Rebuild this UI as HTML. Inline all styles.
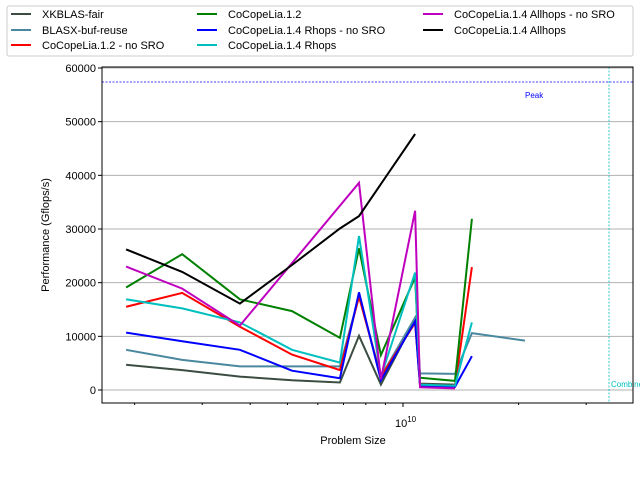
<!DOCTYPE html>
<html><head><meta charset="utf-8"><style>
body{margin:0;background:#fff}
svg{display:block;font-family:"Liberation Sans","DejaVu Sans",sans-serif}
</style></head><body>
<svg id="chart" width="640" height="480">
  <rect x="0" y="0" width="640" height="480" fill="#fff"/>
  <g id="grid"></g>
  <g id="series"></g>
  <line x1="102" y1="82" x2="633" y2="82" stroke="#0000ff" stroke-width="0.8" stroke-dasharray="2,1.5"/>
  <text x="525" y="98" font-size="8" fill="#0000ff">Peak</text>
  <line x1="609" y1="67" x2="609" y2="403" stroke="#00bfbf" stroke-width="0.8" stroke-dasharray="2,1.5"/>
  <text x="611" y="387" font-size="8" fill="#00bfbf">Combined</text>
  <rect x="102" y="67" width="531" height="336" fill="none" stroke="#000" stroke-width="1"/>
  <g id="axes"></g>
  <text x="353" y="444" font-size="11" text-anchor="middle">Problem Size</text>
  <text transform="translate(49,235) rotate(-90)" font-size="11" text-anchor="middle">Performance (Gflops/s)</text>
  <g>
    <rect x="7" y="6" width="626" height="50" fill="#fff" stroke="#ccc" stroke-width="1" rx="2"/>
    <g id="legend-items"></g>
  </g>
</svg>
<script>
const xValues = [1.90e9, 2.66e9, 3.76e9, 5.14e9, 6.85e9, 7.68e9, 8.76e9, 1.075e10, 1.107e10, 1.366e10, 1.512e10, 2.078e10];
const seriesNames = ["XKBLAS-fair","BLASX-buf-reuse","CoCopeLia.1.2 - no SRO","CoCopeLia.1.2","CoCopeLia.1.4 Rhops - no SRO","CoCopeLia.1.4 Rhops","CoCopeLia.1.4 Allhops - no SRO","CoCopeLia.1.4 Allhops"];
const seriesColors = ["#3b4d42","#4a88a0","#ff0000","#008000","#0000ff","#00bfbf","#bf00bf","#000000"];
const xkblas   = [4700,3700,2500,1800,1400,10100,1000,13200,1200,1000,null,null];
const blasx    = [7500,5600,4400,4400,4400,17500,2500,13500,3100,3000,10600,9200];
const coco12ns = [15500,18100,11800,6600,3700,17400,2500,12500,1000,800,22900,null];
const coco12   = [19100,25300,16900,14700,9700,26400,6500,21000,2300,1700,31900,null];
const rhopsNs  = [10700,9100,7500,3600,2200,18200,1800,12800,800,600,6300,null];
const rhops    = [16900,15200,12600,7500,5100,28700,2500,21900,1000,800,12600,null];
const allNs    = [23000,18900,12000,null,null,38600,2000,33400,500,300,null,null];
const allhops  = [26200,22000,16100,23300,30100,32400,null,47700,null,null,null,null];
const seriesData = [xkblas, blasx, coco12ns, coco12, rhopsNs, rhops, allNs, allhops];
const yTicks = [0,10000,20000,30000,40000,50000,60000];
const yTickLabels = ["0","10000","20000","30000","40000","50000","60000"];

const NS="http://www.w3.org/2000/svg";
const X0=102,X1=633,Y0=67,Y1=403;
const xMinLog=9.2161, xMaxLog=10.5990;
function xs(v){return X0+(Math.log10(v)-xMinLog)/(xMaxLog-xMinLog)*(X1-X0);}
function ys(v){return 390-(v/60000)*(390-68);}
function mk(t,a,p){const e=document.createElementNS(NS,t);for(const k in a)e.setAttribute(k,a[k]);(p||document.getElementById('chart')).appendChild(e);return e;}

const grid=document.getElementById('grid'), axes=document.getElementById('axes');
yTicks.forEach((t,i)=>{
  const y=ys(t);
  const g=mk('line',{x1:X0,x2:X1,y1:y,y2:y,stroke:'#b0b0b0','stroke-width':1},grid);
  
  
  const tk=mk('line',{x1:X0-4,x2:X0,y1:y,y2:y,stroke:'#000'},axes);
  
  
  const tx=mk('text',{x:X0-6,y:y+4,'font-size':11,'text-anchor':'end'},axes);
  tx.textContent=yTickLabels[i];
  
  
});
[2e9,3e9,4e9,5e9,6e9,7e9,8e9,9e9,2e10,3e10].forEach(v=>{
  const x=xs(v);
  const t=mk('line',{x1:x,x2:x,y1:Y1,y2:Y1+2,stroke:'#000'},axes);
  
  
});
{const x=xs(1e10);
 const t=mk('line',{x1:x,x2:x,y1:Y1,y2:Y1+4,stroke:'#000'},axes);
 
 
 const tx=mk('text',{x:x-8,y:Y1+24,'font-size':11},axes);
 tx.innerHTML='10<tspan dy="-5" font-size="8">10</tspan>';
 
 }

const sg=document.getElementById('series');
seriesData.forEach((d,si)=>{
  const pts=[];
  d.forEach((v,i)=>{if(v!==null)pts.push(xs(xValues[i]).toFixed(1)+','+ys(v).toFixed(1));});
  const pl=mk('polyline',{points:pts.join(' '),fill:'none',stroke:seriesColors[si],'stroke-width':2,'stroke-linejoin':'miter'},sg);
  
  
});

const lg=document.getElementById('legend-items');
const colX=[11,197,423], rowY=[14,30,45];
seriesNames.forEach((n,i)=>{
  const c=Math.floor(i/3), r=i%3;
  const l=mk('line',{x1:colX[c],x2:colX[c]+20,y1:rowY[r],y2:rowY[r],stroke:seriesColors[i],'stroke-width':2},lg);
  
  
  const t=mk('text',{x:colX[c]+31,y:rowY[r]+4,'font-size':11},lg);
  t.textContent=n;
  
  
});
</script>
</body></html>
